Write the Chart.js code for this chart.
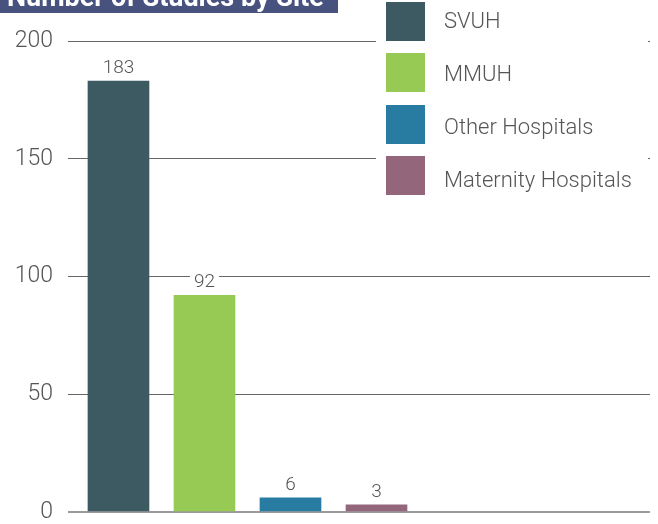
<!DOCTYPE html>
<html>
<head>
<meta charset="utf-8">
<title>Number of Studies by Site</title>
<script src="https://cdn.jsdelivr.net/npm/chart.js@4.4.0/dist/chart.umd.min.js"></script>
<style>
    html, body { margin: 0; padding: 0; background: #fff; }
    #wrap { width: 658px; height: 524px; }
</style>
</head>
<body>
<div id="wrap"><canvas id="siteChart" width="658" height="524"></canvas></div>
<script>
// Dati del grafico
const chartTitle = 'Number of Studies by Site';
const sites = ['SVUH', 'MMUH', 'Other Hospitals', 'Maternity Hospitals'];
const studies = [183, 92, 6, 3];
const siteColors = ['#3d5961', '#97ca55', '#287ca1', '#93667c'];
const yTicks = [0, 50, 100, 150, 200];

const textColor = '#555';
const fontFamily = 'Roboto, "Noto Sans", sans-serif';

// Banner del titolo (tagliato in alto come nell'originale)
const titleBanner = {
    id: 'titleBanner',
    afterDraw(chart) {
        const ctx = chart.ctx;
        ctx.save();
        ctx.fillStyle = '#47527f';
        ctx.fillRect(0, 0, 338, 13);
        ctx.fillStyle = '#fff';
        ctx.font = `bold 27px ${fontFamily}`;
        ctx.textBaseline = 'alphabetic';
        ctx.textAlign = 'left';
        ctx.fillText(chartTitle, 7, 6);
        ctx.restore();
    }
};

// Legenda disegnata sopra la griglia
const boxLegend = {
    id: 'boxLegend',
    afterDraw(chart) {
        const ctx = chart.ctx;
        ctx.save();
        ctx.fillStyle = '#fff';
        ctx.fillRect(376, 0, 272, 200);
        ctx.font = `300 22px ${fontFamily}`;
        ctx.textBaseline = 'middle';
        ctx.textAlign = 'left';
        chart.data.datasets.forEach((ds, i) => {
            ctx.fillStyle = ds.backgroundColor;
            ctx.fillRect(386, Math.round(2 + i * 51.3), 39, 39);
            ctx.fillStyle = textColor;
            ctx.fillText(ds.label, 444, 22 + i * 53);
        });
        ctx.restore();
    }
};

// Etichette con i valori sopra le barre
const valueLabels = {
    id: 'valueLabels',
    afterDatasetsDraw(chart) {
        const ctx = chart.ctx;
        ctx.save();
        ctx.font = `300 19px ${fontFamily}`;
        ctx.textBaseline = 'middle';
        ctx.textAlign = 'center';
        chart.data.datasets.forEach((ds, i) => {
            const bar = chart.getDatasetMeta(i).data[0];
            const text = String(ds.data[0].y);
            const w = ctx.measureText(text).width;
            const y = bar.y - 13;
            ctx.fillStyle = '#fff';
            ctx.fillRect(bar.x - w / 2 - 4, y - 9, w + 8, 18);
            ctx.fillStyle = textColor;
            ctx.fillText(text, bar.x, y);
        });
        ctx.restore();
    }
};

const datasets = sites.map((site, i) => ({
    label: site,
    data: [{ x: i, y: studies[i] }],
    backgroundColor: siteColors[i],
    barThickness: 61
}));

new Chart(document.getElementById('siteChart'), {
    type: 'bar',
    data: { datasets: datasets },
    options: {
        responsive: false,
        animation: false,
        devicePixelRatio: 1,
        layout: { padding: { left: 16, top: 41, right: 8, bottom: 12 } },
        datasets: { bar: { grouped: false } },
        plugins: {
            legend: { display: false },
            tooltip: { enabled: false },
            title: { display: false }
        },
        scales: {
            x: {
                type: 'linear',
                display: false,
                offset: false,
                min: -0.587,
                max: 6.18
            },
            y: {
                min: 0,
                max: 200,
                afterBuildTicks: axis => { axis.ticks = yTicks.map(v => ({ value: v })); },
                // larghezza fissa dell'asse, niente spazio extra sopra/sotto
                afterFit: axis => {
                    axis.width = 52;
                    axis.paddingTop = 0;
                    axis.paddingBottom = 0;
                },
                border: { display: false },
                grid: {
                    drawTicks: false,
                    color: c => (c.tick && c.tick.value === 0) ? '#9b9b9b' : '#666',
                    lineWidth: c => (c.tick && c.tick.value === 0) ? 2 : 1
                },
                ticks: {
                    padding: 15,
                    color: textColor,
                    font: { family: fontFamily, size: 23, weight: 300 }
                }
            }
        }
    },
    plugins: [valueLabels, boxLegend, titleBanner]
});
</script>
</body>
</html>
